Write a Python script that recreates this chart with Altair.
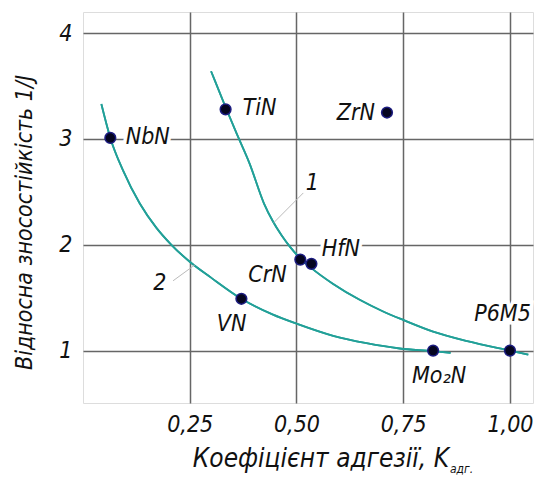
import altair as alt
import pandas as pd

# ---- data ----
pt_name = ["NbN", "TiN", "ZrN", "CrN", "HfN", "VN", "Mo2N", "P6M5"]
pt_x = [0.064, 0.334, 0.712, 0.509, 0.535, 0.371, 0.82, 1.0]
pt_y = [3.01, 3.28, 3.25, 1.86, 1.82, 1.49, 1.0, 1.0]

c1_x = [0.30, 0.315, 0.334, 0.36, 0.39, 0.424, 0.445, 0.465, 0.485, 0.509, 0.535,
        0.586, 0.648, 0.703, 0.75, 0.82, 0.90, 1.0, 1.043]
c1_y = [3.64, 3.49, 3.30, 3.05, 2.77, 2.39, 2.22, 2.09, 1.98, 1.87, 1.78,
        1.63, 1.48, 1.37, 1.29, 1.18, 1.09, 1.0, 0.962]

c2_x = [0.043, 0.064, 0.094, 0.133, 0.172, 0.207, 0.25, 0.30, 0.371, 0.445, 0.50,
        0.586, 0.664, 0.742, 0.82, 0.861]
c2_y = [3.33, 3.01, 2.70, 2.39, 2.16, 2.00, 1.84, 1.69, 1.49, 1.34, 1.255,
        1.14, 1.07, 1.02, 0.995, 0.978]

lab_text = ["NbN", "TiN", "ZrN", "CrN", "HfN", "VN", "Mo\u2082N", "P6M5", "1", "2"]
lab_x = [0.10, 0.374, 0.684, 0.477, 0.559, 0.348, 0.834, 1.049, 0.537, 0.18]
lab_y = [3.02, 3.29, 3.245, 1.71, 1.96, 1.25, 0.76, 1.35, 2.58, 1.635]
lab_align = ["left", "left", "right", "right", "left", "center", "center", "right", "center", "center"]

ld_x = [0.516, 0.211]
ld_y = [2.49, 1.66]
ld_x2 = [0.447, 0.262]
ld_y2 = [2.21, 1.81]

x_ticks = [0.25, 0.5, 0.75, 1.0]
y_ticks = [1, 2, 3, 4]

FONT = "Liberation Sans Narrow, DejaVu Sans Condensed, sans-serif"
TEAL = "#22a098"
GRID = "#666666"

pts = pd.DataFrame({"name": pt_name, "x": pt_x, "y": pt_y})
curves = pd.concat([
    pd.DataFrame({"x": c1_x, "y": c1_y, "c": "1"}),
    pd.DataFrame({"x": c2_x, "y": c2_y, "c": "2"}),
])
labs = pd.DataFrame({"t": lab_text, "x": lab_x, "y": lab_y, "a": lab_align})
leads = pd.DataFrame({"x": ld_x, "y": ld_y, "x2": ld_x2, "y2": ld_y2})

xs = alt.Scale(domain=[0, 1.054], nice=False, zero=False)
ys = alt.Scale(domain=[0.505, 4.2], nice=False, zero=False)

X = alt.X("x:Q", scale=xs, axis=alt.Axis(
    values=x_ticks, grid=True, gridColor=GRID, gridWidth=1.5, gridOpacity=1,
    domain=False, ticks=False, labelFont=FONT, labelFontStyle="italic",
    labelFontSize=23, labelColor="#111", labelPadding=10,
    labelExpr="replace(format(datum.value, '.2f'), '.', ',')", title=None))
Y = alt.Y("y:Q", scale=ys, axis=alt.Axis(
    values=y_ticks, grid=True, gridColor=GRID, gridWidth=1.5, gridOpacity=1,
    domain=False, ticks=False, labelFont=FONT, labelFontStyle="italic",
    labelFontSize=23, labelColor="#111", labelPadding=11, labelBaseline="middle",
    labelExpr="format(datum.value, 'd')",
    title="Відносна зносостійкість 1/J", titleFont=FONT, titleFontStyle="italic",
    titleFontWeight="normal", titleFontSize=23, titleColor="#111", titleAngle=-90,
    titleAlign="center", titleBaseline="middle", titleX=-59, titleY=210))

curve_layer = alt.Chart(curves).mark_line(color=TEAL, strokeWidth=1.8, interpolate="monotone").encode(
    x=X, y=Y, detail="c:N", order="x:Q")

lead_layer = alt.Chart(leads).mark_rule(color="#bbbbbb", strokeWidth=1).encode(
    x=alt.X("x:Q", scale=xs), y=alt.Y("y:Q", scale=ys), x2="x2:Q", y2="y2:Q")

pt_layer = alt.Chart(pts).mark_point(filled=True, size=115, fill="#050520",
                                     stroke="#1c1c80", strokeWidth=1.5, opacity=1).encode(
    x=alt.X("x:Q", scale=xs), y=alt.Y("y:Q", scale=ys))

text_layers = []
for al in ["left", "right", "center"]:
    base = alt.Chart(labs).transform_filter(alt.datum.a == al)
    enc = dict(x=alt.X("x:Q", scale=xs), y=alt.Y("y:Q", scale=ys), text="t:N")
    halo = base.mark_text(align=al, baseline="middle", font=FONT, fontStyle="italic",
                          fontSize=23, color="white", stroke="white", strokeWidth=7).encode(**enc)
    txt = base.mark_text(align=al, baseline="middle", font=FONT, fontStyle="italic",
                         fontSize=23, color="#111").encode(**enc)
    text_layers.append((halo, txt))

one = alt.Data(values=[{}])
xt_main = alt.Chart(one).mark_text(align="right", baseline="alphabetic", font=FONT,
                                   fontStyle="italic", fontSize=26, color="#111").encode(
    x=alt.value(366), y=alt.value(455), text=alt.value("Коефіцієнт адгезії, K"))
xt_sub = alt.Chart(one).mark_text(align="left", baseline="alphabetic", font=FONT,
                                  fontStyle="italic", fontSize=12, color="#111").encode(
    x=alt.value(367), y=alt.value(461), text=alt.value("адг."))

halos = [h for h, _ in text_layers]
texts = [t for _, t in text_layers]

chart = alt.layer(
    curve_layer, *halos, curve_layer.encode(), lead_layer, pt_layer, *texts, xt_main, xt_sub
).properties(
    width=450, height=391,
    autosize=alt.AutoSizeParams(type="none"),
    padding={"left": 83, "top": 12, "right": 3, "bottom": 74},
).configure_view(stroke="#555555", strokeWidth=1.5).configure(background="white")

chart.save("out.html", embed_options={"renderer": "svg", "actions": False})
